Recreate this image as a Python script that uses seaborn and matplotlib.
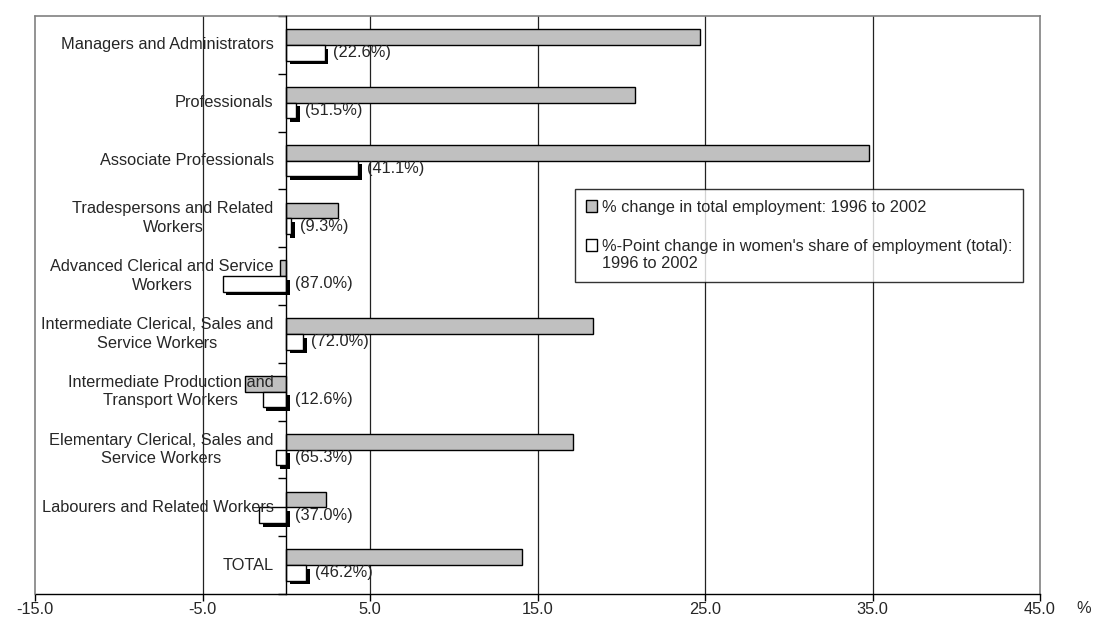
import matplotlib
matplotlib.use("Agg")
import matplotlib.pyplot as plt
import seaborn as sns
import pandas as pd
from matplotlib import patheffects as pe
from matplotlib.patches import Rectangle
from matplotlib.legend_handler import HandlerPatch
from matplotlib.ticker import FixedLocator, NullFormatter

occupations = [
    "Managers and Administrators",
    "Professionals",
    "Associate Professionals",
    "Tradespersons and Related\nWorkers",
    "Advanced Clerical and Service\nWorkers",
    "Intermediate Clerical, Sales and\nService Workers",
    "Intermediate Production and\nTransport Workers",
    "Elementary Clerical, Sales and\nService Workers",
    "Labourers and Related Workers",
    "TOTAL",
]
employment_change = [24.7, 20.8, 34.8, 3.1, -0.35, 18.3, -2.45, 17.1, 2.4, 14.1]
women_share_change = [2.3, 0.6, 4.3, 0.3, -3.8, 1.0, -1.4, -0.6, -1.6, 1.2]
women_share_2002 = [22.6, 51.5, 41.1, 9.3, 87.0, 72.0, 12.6, 65.3, 37.0, 46.2]
series_names = [
    "% change in total employment: 1996 to 2002",
    "%-Point change in women's share of employment (total):\n1996 to 2002",
]
x_ticks = [-15.0, -5.0, 5.0, 15.0, 25.0, 35.0, 45.0]

sns.set_theme(style="white")
plt.rcParams["font.family"] = ["Liberation Sans", "DejaVu Sans"]

FS = 11.8

df = pd.DataFrame({
    "occupation": occupations * 2,
    "value": employment_change + women_share_change,
    "series": [series_names[0]] * len(occupations) + [series_names[1]] * len(occupations),
})

fig = plt.figure(figsize=(11.02, 6.17), dpi=100)
ax = fig.add_axes([35 / 1102, 23 / 617, 1005 / 1102, 578 / 617])

sns.barplot(
    data=df, y="occupation", x="value", hue="series", hue_order=series_names,
    order=occupations, orient="h", palette=["#c0c0c0", "#ffffff"],
    width=0.54, dodge=True, edgecolor="black", linewidth=1.0,
    errorbar=None, ax=ax, zorder=3, legend=True,
)

# drop shadow on the women's share bars
for bar in ax.patches:
    fc = bar.get_facecolor()
    if fc[0] > 0.95 and fc[1] > 0.95:
        bar.set_path_effects([
            pe.SimplePatchShadow(offset=(2.6, -2.6), shadow_rgbFace="black", alpha=1.0),
            pe.Normal(),
        ])

ax.set_xlim(-15, 45)
ax.set_ylim(len(occupations) - 0.5, -0.5)
ax.set_xlabel("")
ax.set_ylabel("")

# x axis
ax.set_xticks(x_ticks)
ax.set_xticklabels([f"{t:.1f}" for t in x_ticks], fontsize=FS)
ax.tick_params(axis="x", direction="out", length=5, width=1, color="black", pad=1.0,
               bottom=True)
for gx in [-5, 5, 15, 25, 35]:
    ax.axvline(gx, color="#222222", linewidth=0.9, zorder=1)
ax.text(1.043, -0.0125, "%", transform=ax.transAxes, ha="center", va="top", fontsize=FS)

# category axis crossing at zero
ax.spines["left"].set_position(("data", 0))
ax.spines["left"].set_color("black")
ax.spines["left"].set_linewidth(1.0)
ax.spines["left"].set_zorder(4)
ax.yaxis.set_major_formatter(NullFormatter())
ax.tick_params(axis="y", which="major", length=0)
ax.yaxis.set_minor_locator(FixedLocator([i - 0.5 for i in range(len(occupations) + 1)]))
ax.tick_params(axis="y", which="minor", direction="out", length=6, width=1,
               color="black", left=True)

for side in ["top", "right"]:
    ax.spines[side].set_color("#808080")
    ax.spines[side].set_linewidth(1.2)
ax.spines["bottom"].set_color("black")
ax.spines["bottom"].set_linewidth(1.0)
ax.axvline(-15, color="#808080", linewidth=1.2, clip_on=False, zorder=5)

# category names, centred block ending just left of the zero line
for i, name in enumerate(occupations):
    ax.text(-0.75, i, name, ha="right", va="center", multialignment="center",
            fontsize=FS, zorder=6, linespacing=1.3)

# women's share labels beside the white bars
for i, (chg, share) in enumerate(zip(women_share_change, women_share_2002)):
    ax.annotate(f"({share:.1f}%)", xy=(max(chg, 0), i + 0.135),
                xytext=(6, 0), textcoords="offset points",
                ha="left", va="center", fontsize=FS, zorder=6)


def first_line_patch(legend, orig_handle, xdescent, ydescent, width, height, fontsize):
    # square marker lined up with the first line of a two-line label
    shift = 0.6 * fontsize
    return Rectangle((-xdescent, -ydescent + shift), width, height)


handles, labels = ax.get_legend_handles_labels()
ax.get_legend().remove()
leg = ax.legend(
    handles, labels,
    loc="upper left", bbox_to_anchor=(0.5375, 0.7005), frameon=True, fancybox=False,
    fontsize=FS, handlelength=0.7, handleheight=0.7, handletextpad=0.3,
    labelspacing=1.45, borderpad=0.65, borderaxespad=0,
    handler_map={handles[1]: HandlerPatch(patch_func=first_line_patch)},
)
leg.get_frame().set_edgecolor("black")
leg.get_frame().set_linewidth(1.0)
leg.set_zorder(7)
for h in leg.legend_handles:
    h.set_path_effects([])
    h.set_edgecolor("black")
    h.set_linewidth(1.0)

fig.savefig("out.png", dpi=100, facecolor="white")
